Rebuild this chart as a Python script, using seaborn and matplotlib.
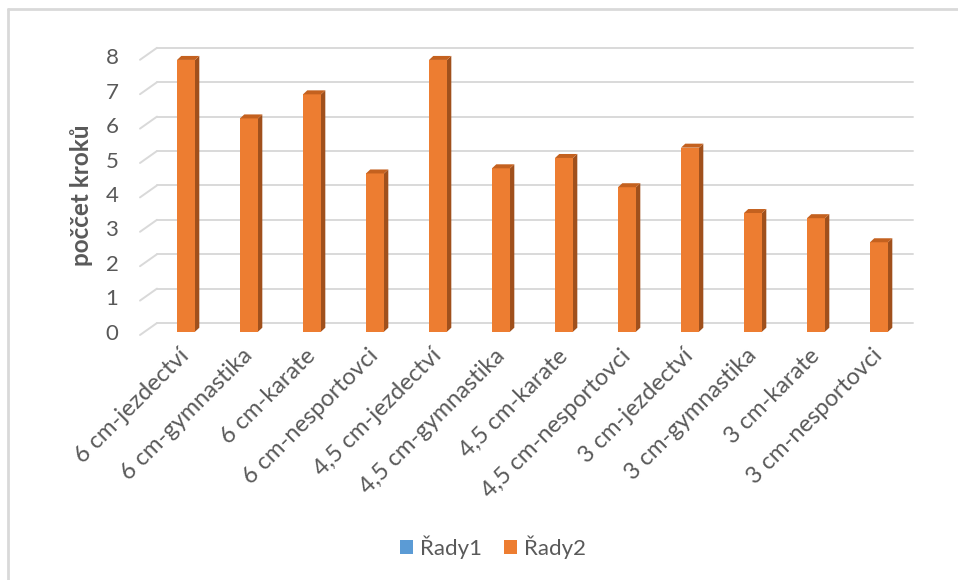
import numpy as np
import pandas as pd
import matplotlib
matplotlib.use("Agg")
import matplotlib.pyplot as plt
from matplotlib.lines import Line2D
from matplotlib.patches import Polygon
from matplotlib.transforms import IdentityTransform
import seaborn as sns

# ---- data ----
categories = ["6 cm-jezdectví", "6 cm-gymnastika", "6 cm-karate", "6 cm-nesportovci",
              "4,5 cm-jezdectví", "4,5 cm-gymnastika", "4,5 cm-karate", "4,5 cm-nesportovci",
              "3 cm-jezdectví", "3 cm-gymnastika", "3 cm-karate", "3 cm-nesportovci"]
rady1 = [0, 0, 0, 0, 0, 0, 0, 0, 0, 0, 0, 0]
rady2 = [7.9, 6.2, 6.9, 4.6, 7.9, 4.75, 5.05, 4.2, 5.35, 3.45, 3.3, 2.6]
series_names = ["Řady1", "Řady2"]
y_ticks = [0, 1, 2, 3, 4, 5, 6, 7, 8]
y_label = "poččet kroků"

df = pd.DataFrame({
    "kategorie": categories * 2,
    "hodnota": rady1 + rady2,
    "rada": [series_names[0]] * len(categories) + [series_names[1]] * len(categories),
})

W, H = 958, 580
sns.set_theme(style="white")
plt.rcParams["font.family"] = ["Lato", "DejaVu Sans"]
TXT = "#595959"
GRID = "#D9D9D9"

fig = plt.figure(figsize=(W / 100, H / 100), dpi=100)
fig.patch.set_facecolor("white")

# axes placement in pixels (top-origin)
ax_l, ax_r = 154.5, 910.5
ax_top, ax_bot = 56.5, 331.7
ax = fig.add_axes([ax_l / W, 1 - ax_bot / H, (ax_r - ax_l) / W, (ax_bot - ax_top) / H])
ax.set_facecolor("none")

palette = {"Řady1": "#5B9BD5", "Řady2": "#ED7D31"}
sns.barplot(data=df, x="kategorie", y="hodnota", hue="rada", palette=palette,
            dodge=False, width=0.286, linewidth=0, saturation=1, ax=ax, zorder=2)

ax.set_xlim(-0.5, len(categories) - 0.5)
ax.set_ylim(y_ticks[0], y_ticks[-1])
for s in ax.spines.values():
    s.set_visible(False)
ax.grid(False)

# ---- 3D-like gridlines (back wall + diagonal) ----
def to_disp(x, y):
    return ax.transData.transform((x, y))

for v in y_ticks:
    xl, yv = to_disp(-0.5, v)
    xr, _ = to_disp(len(categories) - 0.5, v)
    back_y = yv + 8.7
    ax.add_line(Line2D([xl + 2.5, xr + 2.5], [back_y, back_y], transform=IdentityTransform(),
                       color=GRID, lw=1.4, clip_on=False, zorder=0.5))
    ax.add_line(Line2D([xl - 14.5, xl + 2.5], [yv - 3.3, back_y], transform=IdentityTransform(),
                       color=GRID, lw=1.4, clip_on=False, zorder=0.5))

# ---- 3D faces on bars ----
dx, dy = 4.3, 4.0
for p in ax.patches:
    h = p.get_height()
    if not np.isfinite(h) or h <= 0:
        continue
    x0 = p.get_x()
    x1 = x0 + p.get_width()
    (px0, py0) = to_disp(x0, 0)
    (px1, pyh) = to_disp(x1, h)
    side = Polygon([[px1, py0], [px1, pyh], [px1 + dx, pyh + dy], [px1 + dx, py0 + dy]],
                   closed=True, transform=IdentityTransform(), facecolor="#A0501C",
                   edgecolor="none", clip_on=False, zorder=2.1)
    top = Polygon([[px0, pyh], [px1, pyh], [px1 + dx, pyh + dy], [px0 + dx, pyh + dy]],
                  closed=True, transform=IdentityTransform(), facecolor="#C4611F",
                  edgecolor="none", clip_on=False, zorder=2.1)
    ax.add_patch(side)
    ax.add_patch(top)

# ---- ticks ----
ax.set_yticks(y_ticks)
ax.set_yticklabels([str(t) for t in y_ticks])
ax.tick_params(axis="y", length=0, pad=26, labelsize=16, labelcolor=TXT)
ax.tick_params(axis="x", length=0, pad=15, labelsize=17, labelcolor=TXT)
for lab in ax.get_xticklabels():
    lab.set_rotation(45)
    lab.set_ha("right")
    lab.set_va("center")
    lab.set_rotation_mode("anchor")

ax.set_xlabel("")
ax.set_ylabel(y_label, fontsize=17.5, fontweight="bold", color=TXT)
ax.yaxis.set_label_coords((93 - ax_l) / (ax_r - ax_l), (ax_bot - 195) / (ax_bot - ax_top))

# ---- legend ----
handles, labels = ax.get_legend_handles_labels()
if ax.get_legend() is not None:
    ax.get_legend().remove()
fig.legend(handles, labels, loc="center", bbox_to_anchor=(493 / W, 1 - 547 / H),
           ncol=2, frameon=False, fontsize=16, labelcolor=TXT,
           handlelength=0.6, handleheight=0.6, handletextpad=0.3, columnspacing=1.0)

# ---- chart-area border (top and left) ----
fig.add_artist(Line2D([8, W], [H - 9, H - 9], transform=IdentityTransform(), color=GRID, lw=2))
fig.add_artist(Line2D([8, 8], [0, H - 9], transform=IdentityTransform(), color=GRID, lw=2))

fig.savefig("out.png", dpi=100)
